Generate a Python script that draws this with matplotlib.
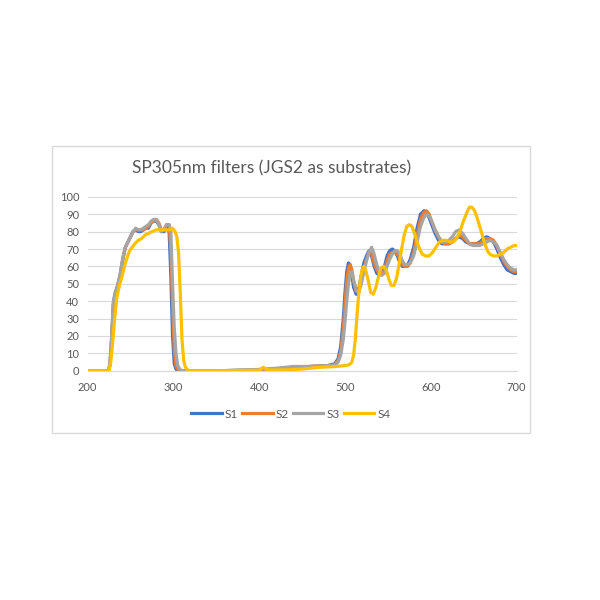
import matplotlib.pyplot as plt
from matplotlib.patches import Rectangle

# wavelength grid shared by S1-S3 (nm)
wl = [200, 224, 226, 228, 230, 232, 235, 238, 241, 244, 247, 250, 253, 256, 259, 262, 265, 268,
      271, 274, 277, 280, 283, 286, 289, 292, 295, 297, 299, 301, 303, 305, 308, 312, 350, 400,
      420, 440, 460, 480, 488, 492, 495, 498, 500, 502, 504, 506, 508, 510, 513, 516, 519, 522,
      525, 528, 531, 534, 537, 540, 543, 546, 549, 552, 555, 558, 561, 564, 567, 570, 573, 576,
      580, 584, 588, 592, 595, 598, 601, 605, 609, 613, 617, 621, 625, 629, 633, 637, 641, 645,
      649, 653, 657, 661, 665, 669, 673, 677, 681, 685, 689, 693, 697, 700]

s1 = [0, 0, 3, 18, 38, 44, 49, 55, 64, 71, 74, 77, 80, 81, 80, 80, 81, 82,
      82, 85, 86, 86, 84, 80, 80, 83, 80, 55, 20, 4, 1, 0, 0, 0, 0, 0.5,
      1, 2, 2.5, 3, 4, 7, 14, 30, 45, 57, 62, 61, 55, 48, 44, 47, 55, 62,
      66, 69, 66, 60, 56, 55, 56, 60, 66, 69, 70, 69, 66, 62, 60, 60, 61, 64,
      71, 82, 90, 92, 91, 88, 84, 79, 75, 73, 73, 73, 74, 76, 77, 76, 74, 73,
      73, 73, 74, 76, 77, 76, 74, 70, 65, 61, 58, 57, 56, 56]

s2 = [0, 0, 3, 18, 38, 44, 49, 55, 64, 71, 74, 77, 80, 81, 81, 81, 81, 82,
      83, 85, 86, 87, 85, 81, 81, 84, 84, 70, 38, 12, 3, 1, 0, 0, 0, 0.3,
      1, 2, 2.5, 3, 3.5, 6, 11, 24, 38, 52, 59, 61, 58, 52, 46, 46, 52, 59,
      64, 68, 67, 62, 58, 56, 55, 58, 63, 67, 68, 68, 67, 64, 61, 60, 60, 62,
      68, 78, 87, 91, 92, 90, 86, 81, 77, 74, 73, 73, 74, 76, 78, 77, 75, 73,
      73, 73, 73, 75, 76, 76, 75, 72, 67, 63, 60, 58, 57, 57]

s3 = [0, 0, 4, 20, 40, 45, 49, 56, 65, 71, 74, 77, 80, 82, 81, 81, 82, 83,
      84, 86, 87, 87, 84, 80, 81, 84, 84, 80, 50, 25, 10, 3, 0.5, 0, 0, 0.8,
      1.5, 2.5, 2.5, 3, 3, 5, 9, 18, 28, 40, 50, 56, 57, 52, 46, 45, 50, 57,
      63, 68, 71, 67, 61, 57, 55, 56, 60, 64, 67, 69, 69, 67, 63, 61, 61, 62,
      66, 74, 83, 88, 90, 89, 86, 81, 77, 74, 74, 75, 77, 80, 81, 79, 76, 73,
      72, 72, 72, 73, 74, 75, 74, 72, 68, 64, 61, 59, 58, 58]

# S4 has its own grid
wl4 = [200, 225, 227, 229, 231, 234, 237, 240, 243, 246, 249, 252, 255, 259, 263, 267, 271, 275,
       280, 285, 290, 295, 299, 302, 304, 306, 308, 310, 312, 314, 318, 350, 400, 403, 405, 408,
       412, 430, 450, 470, 490, 500, 505, 508, 510, 512, 514, 516, 518, 520, 522, 524, 527, 530,
       533, 536, 539, 542, 545, 548, 551, 554, 557, 560, 563, 566, 569, 572, 575, 578, 581, 584,
       587, 590, 594, 598, 602, 606, 610, 614, 618, 622, 626, 630, 634, 638, 642, 645, 648, 651,
       654, 657, 660, 663, 666, 669, 673, 677, 681, 685, 689, 693, 697, 700]

s4 = [0, 0, 5, 15, 27, 42, 49, 54, 60, 65, 69, 71, 73, 75, 76, 78, 79, 80,
      81, 81, 81, 81, 82, 80, 77, 68, 45, 18, 6, 2, 0, 0, 0.3, 1.5, 2, 1,
      0.5, 0.5, 1, 2, 2.5, 3, 3.5, 5, 9, 18, 32, 44, 53, 58, 60, 58, 52, 45,
      44, 48, 54, 59, 60, 58, 53, 49, 49, 53, 61, 70, 78, 83, 84, 83, 79, 74,
      70, 67, 66, 66, 68, 71, 74, 75, 75, 74, 74, 76, 80, 86, 91, 94, 94, 92,
      88, 83, 78, 73, 69, 67, 66, 66, 67, 68, 70, 71, 72, 72]

labels = ["S1", "S2", "S3", "S4"]
colors = ["#4472C4", "#ED7D31", "#A5A5A5", "#FFC000"]
title = "SP305nm filters (JGS2 as substrates)"

plt.rcParams['font.family'] = ['Lato', 'DejaVu Sans']

fig = plt.figure(figsize=(6, 6), dpi=100)
fig.patches.append(Rectangle((0.087, 0.278), 0.796, 0.479, transform=fig.transFigure,
                             fill=False, edgecolor="#d9d9d9", linewidth=1))

ax = fig.add_axes([0.146, 0.382, 0.715, 0.290])
series = [(wl, s1), (wl, s2), (wl, s3), (wl4, s4)]
for (xs, ys), lab, col in zip(series, labels, colors):
    ax.plot(xs, ys, color=col, linewidth=2.3, label=lab, solid_joinstyle="round")

ax.set_xlim(200, 700)
ax.set_ylim(0, 100)
ax.set_xticks(range(200, 701, 100))
ax.set_yticks(range(0, 101, 10))
ax.grid(axis="y", color="#d9d9d9", linewidth=0.8)
ax.set_axisbelow(True)
for side in ["left", "right", "top"]:
    ax.spines[side].set_visible(False)
ax.spines["bottom"].set_color("#d9d9d9")
ax.tick_params(length=0, labelsize=8, colors="#595959", pad=6)
ax.tick_params(axis="x", pad=8)

fig.text(0.452, 0.72, title, ha="center", va="center", fontsize=12.5, color="#595959")

fig.legend(loc="center", bbox_to_anchor=(0.485, 0.31), ncol=4, frameon=False,
           fontsize=8.5, handlelength=2.6, handletextpad=0.3, columnspacing=0.3,
           labelcolor="#595959")

fig.savefig("out.png", dpi=100)
